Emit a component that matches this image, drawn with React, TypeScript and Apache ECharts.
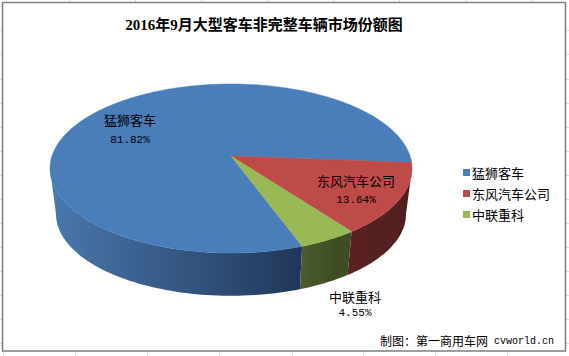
import React, { useEffect, useRef } from "react";
import * as echarts from "echarts";

const categories = ["猛狮客车", "东风汽车公司", "中联重科"];
const values = [81.82, 13.64, 4.55];
const percentLabels = ["81.82%", "13.64%", "4.55%"];
const topColors = ["#4a7ebb", "#be4b48", "#98b954"];
const wallStops = [
  ["#4a78b0", "#3c6291", "#2f4d75", "#1f3659"],
  ["#5e2120", "#562020", "#562020", "#4f1c1c"],
  ["#4d5c2c", "#46552a", "#3f4d24", "#3f4d24"],
];
const titleText = "2016年9月大型客车非完整车辆市场份额图";
const creditCn = "制图：第一商用车网";
const creditEn = "cvworld.cn";
const topTicks = [69, 135, 201, 267, 333, 399, 466, 532];
const bottomTicks = [3, 75, 147, 219, 292, 363, 435, 507];
const sideTicks = [30, 54, 79, 103, 127, 151, 175, 199, 223, 247, 271, 295, 319, 343];

// Slice order on screen is clockwise from startDeg: red, green, blue.
const startDeg = 4.5;
const order = [1, 2, 0];
const apex = { x: 231, y: 156 };
const R = 179;
const A = 82.65;
const B = 0.148;
const depthScale = 0.967;
const depthDrop = 46;
const silhouette = (Math.asin(B) * 180) / Math.PI;
const labelPos = [
  { x: 130, y: 119, py: 140 },
  { x: 356, y: 180, py: 200 },
  { x: 355, y: 296, py: 313 },
];

function project(deg: number, lower: boolean): number[] {
  const t = (deg * Math.PI) / 180;
  const u = Math.cos(t);
  const v = Math.sin(t);
  const w = 1 - B * v;
  const x = (R * u) / w;
  const y = (A * v) / w;
  return lower
    ? [apex.x + x * depthScale, apex.y + depthDrop + y * depthScale]
    : [apex.x + x, apex.y + y];
}

function arcPoints(a: number, b: number, lower: boolean): number[][] {
  const pts: number[][] = [];
  const n = Math.max(2, Math.ceil(Math.abs(b - a) / 1.5));
  for (let i = 0; i <= n; i++) pts.push(project(a + ((b - a) * i) / n, lower));
  return pts;
}

function sliceRange(idx: number) {
  const total = values.reduce((s, v) => s + v, 0);
  let a = startDeg;
  for (const k of order) {
    const sweep = (values[k] / total) * 360;
    if (k === idx) return [a, a + sweep];
    a += sweep;
  }
  return [a, a];
}

function renderSlice(params: any, api: any) {
  const idx = api.value(0);
  const [a, b] = sliceRange(idx);
  const wallFrom = Math.max(a, silhouette);
  const wallTo = Math.min(b, 180 - silhouette);
  const children: any[] = [];
  if (wallTo > wallFrom) {
    const pts = [...arcPoints(wallFrom, wallTo, false), ...arcPoints(wallTo, wallFrom, true)];
    const stops = wallStops[idx];
    children.push({
      type: "polygon",
      shape: { points: pts },
      style: {
        fill: new echarts.graphic.LinearGradient(
          0, 0, 1, 0,
          stops.map((color, i) => ({ offset: i / (stops.length - 1), color })),
        ),
        stroke: "none",
      },
      z2: 1,
    });
  }
  children.push({
    type: "polygon",
    shape: { points: [[apex.x, apex.y], ...arcPoints(a, b, false)] },
    style: { fill: topColors[idx], stroke: topColors[idx], lineWidth: 0.5 },
    z2: 2,
  });
  const lp = labelPos[idx];
  children.push({
    type: "text",
    style: {
      x: lp.x, y: lp.y, text: categories[idx], fill: "#000",
      font: '13px "Noto Sans CJK SC"', align: "center", verticalAlign: "middle",
    },
    z2: 5,
  });
  children.push({
    type: "text",
    style: {
      x: lp.x, y: lp.py, text: percentLabels[idx], fill: "#000",
      font: '11px "Liberation Mono"', align: "center", verticalAlign: "middle",
    },
    z2: 5,
  });
  return { type: "group", children };
}

export default function App() {
  const ref = useRef<HTMLDivElement>(null);
  useEffect(() => {
    document.body.style.margin = "0";
    const chart = echarts.init(ref.current!, undefined, { renderer: "svg" });
    const grid = (x1: number, y1: number, x2: number, y2: number) => ({
      type: "line",
      shape: { x1, y1, x2, y2 },
      style: { stroke: "#dcdcdc", lineWidth: 1 },
      silent: true,
    });
    chart.setOption({
      animation: false,
      backgroundColor: "#ffffff",
      title: {
        text: titleText,
        left: 259,
        top: 12,
        textAlign: "center",
        textStyle: {
          fontFamily: '"Liberation Serif","Noto Sans CJK SC"',
          fontSize: 15,
          fontWeight: "bold",
          color: "#000",
        },
      },
      legend: {
        data: categories,
        orient: "vertical",
        left: 458,
        top: 161,
        itemWidth: 7,
        itemHeight: 7,
        itemGap: 8,
        icon: "rect",
        textStyle: { fontFamily: '"Noto Sans CJK SC"', fontSize: 13, color: "#000", padding: [0, 0, 0, -3] },
      },
      xAxis: { show: false },
      yAxis: { show: false },
      grid: { left: 0, right: 0, top: 0, bottom: 0 },
      series: categories.map((name, i) => ({
        type: "custom",
        name,
        coordinateSystem: "none",
        renderItem: renderSlice,
        data: [[i, values[i]]],
        itemStyle: { color: topColors[i] },
        silent: true,
      })),
      graphic: [
        ...topTicks.map((x) => grid(x + 0.5, 0, x + 0.5, 2)),
        ...bottomTicks.map((x) => grid(x + 0.5, 352, x + 0.5, 356)),
        ...sideTicks.map((y) => grid(0, y + 0.5, 2, y + 0.5)),
        ...sideTicks.map((y) => grid(566, y + 0.5, 569, y + 0.5)),
        {
          type: "rect",
          shape: { x: 2.5, y: 2.5, width: 563, height: 348.5 },
          style: { fill: "none", stroke: "#7f7f7f", lineWidth: 1.5 },
          silent: true,
        },
        {
          type: "text",
          x: 380,
          y: 340,
          style: { text: creditCn, fill: "#000", font: '12px "Noto Sans CJK SC"', verticalAlign: "middle" },
          silent: true,
        },
        {
          type: "text",
          x: 494,
          y: 341,
          style: { text: creditEn, fill: "#000", font: '10px "Liberation Mono"', verticalAlign: "middle" },
          silent: true,
        },
      ],
    });
    return () => chart.dispose();
  }, []);
  return <div ref={ref} style={{ width: 569, height: 356 }} />;
}
